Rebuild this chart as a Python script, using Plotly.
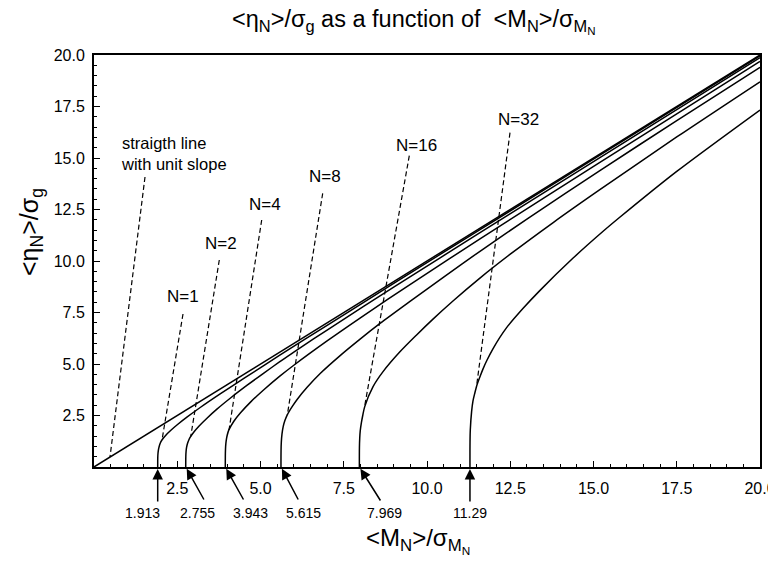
import plotly.graph_objects as go

# ---------------- data ----------------
unit_x = [0.0, 20.0]
unit_y = [0.0, 20.0]

n1_x = [1.913, 1.915, 1.922, 1.94, 1.98, 2.04, 2.15, 2.3, 2.5, 2.8, 3.2, 3.8, 4.5, 5.58, 7.0, 9.0, 11.58, 15.18, 20.0]
n1_y = [0.0, 0.46, 0.67, 0.88, 1.12, 1.31, 1.53, 1.77, 2.05, 2.43, 2.9, 3.56, 4.3, 5.43, 6.88, 8.91, 11.51, 15.125, 19.96]

n2_x = [2.755, 2.757, 2.765, 2.78, 2.81, 2.85, 2.9, 3.0, 3.15, 3.4, 3.7, 4.1, 4.6, 5.1, 5.58, 6.0, 7.0, 9.0, 11.58, 15.18, 20.0]
n2_y = [0.0, 0.5, 0.75, 0.95, 1.15, 1.32, 1.47, 1.70, 1.98, 2.38, 2.82, 3.35, 3.97, 4.56, 5.11, 5.58, 6.65, 8.73, 11.36, 15.01, 19.87]

n4_x = [3.943, 3.945, 3.953, 3.97, 4.0, 4.05, 4.2, 4.4, 4.7, 5.1, 5.58, 6.0, 7.0, 8.0, 9.5, 11.58, 15.18, 20.0]
n4_y = [0.0, 0.66, 1.0, 1.28, 1.54, 1.80, 2.22, 2.63, 3.15, 3.75, 4.41, 4.94, 6.12, 7.24, 8.87, 11.06, 14.78, 19.69]

n8_x = [5.615, 5.617, 5.625, 5.645, 5.68, 5.73, 5.8, 5.95, 6.1, 6.4, 6.8, 7.4, 8.0, 8.6, 9.5, 10.5, 11.58, 13.0, 15.18, 17.5, 20.0]
n8_y = [0.0, 0.8, 1.2, 1.6, 1.95, 2.24, 2.52, 2.93, 3.28, 3.87, 4.55, 5.42, 6.22, 6.98, 8.05, 9.22, 10.46, 12.03, 14.38, 16.81, 19.4]

n16_x = [7.969, 7.971, 7.98, 7.995, 8.03, 8.07, 8.13, 8.38, 8.68, 9.18, 9.68, 10.18, 10.78, 11.58, 12.5, 13.8, 15.18, 17.5, 20.0]
n16_y = [0.0, 0.95, 1.4, 1.75, 2.15, 2.5, 2.93, 3.90, 4.63, 5.58, 6.40, 7.18, 8.06, 9.16, 10.33, 11.88, 13.45, 16.02, 18.7]

n32_x = [11.29, 11.292, 11.30, 11.34, 11.38, 11.43, 11.5, 11.6, 11.68, 11.8, 11.98, 12.38, 12.88, 13.38, 14.38, 15.28, 15.78, 17.5, 20.0]
n32_y = [0.0, 1.2, 1.8, 2.7, 3.2, 3.55, 3.98, 4.42, 4.75, 5.18, 5.74, 6.74, 7.69, 8.55, 10.13, 11.43, 12.11, 14.35, 17.33]

curve_names = ["N=1", "N=2", "N=4", "N=8", "N=16", "N=32"]
start_values = [1.913, 2.755, 3.943, 5.615, 7.969, 11.29]
start_labels = ["1.913", "2.755", "3.943", "5.615", "7.969", "11.29"]

tick_vals = [2.5, 5.0, 7.5, 10.0, 12.5, 15.0, 17.5, 20.0]
tick_text = ["2.5", "5.0", "7.5", "10.0", "12.5", "15.0", "17.5", "20.0"]

# ---------------- layout helpers ----------------
FONT = "Liberation Sans, Arial, Helvetica, sans-serif"
PL, PR, PT, PB = 94, 760, 55, 467   # plot area in window pixels
W, H = 768, 562
L, T, R, B = PL, PT, W - PR, H - PB
PW, PH = PR - PL, PB - PT

def px_to_data(px, py):
    return (px - PL) / PW * 20.0, (PB - py) / PH * 20.0

def px_to_paper(px, py):
    return (px - PL) / PW, (PB - py) / PH

fig = go.Figure()

curves = [(unit_x, unit_y), (n1_x, n1_y), (n2_x, n2_y), (n4_x, n4_y),
          (n8_x, n8_y), (n16_x, n16_y), (n32_x, n32_y)]
for i, (cx, cy) in enumerate(curves):
    fig.add_trace(go.Scatter(
        x=cx, y=cy, mode="lines",
        line=dict(color="black", width=1.5, shape="linear" if i == 0 else "spline", smoothing=0.8),
        showlegend=False, hoverinfo="skip", cliponaxis=True))

annotations = []
shapes = []

label_pos = [(182.5, 296), (220.7, 243), (265, 204), (325, 176), (416, 145), (518, 119)]
leader_pos = [((183, 314), (162, 440)), ((219.3, 260), (190.7, 436.7)), ((261.7, 220), (229, 430)),
              ((322.7, 193.3), (287.3, 415)), ((409.3, 155.7), (364.5, 407)), ((510, 132.7), (476.7, 385))]
for name, (lx, ly) in zip(curve_names, label_pos):
    dx, dy = px_to_data(lx, ly)
    annotations.append(dict(x=dx, y=dy, xref="x", yref="y", text=name, showarrow=False,
                            xanchor="center", yanchor="middle",
                            font=dict(family=FONT, size=17, color="black")))
sx, sy = px_to_data(119, 153.5)
annotations.append(dict(x=sx, y=sy, xref="x", yref="y", text="straigth line<br>with unit slope",
                        showarrow=False, xanchor="left", yanchor="middle", align="left",
                        font=dict(family=FONT, size=16.5, color="black")))
leader_pos = [((145, 177), (110, 457))] + leader_pos
for (p0, p1) in leader_pos:
    x0, y0 = px_to_data(*p0)
    x1, y1 = px_to_data(*p1)
    shapes.append(dict(type="line", xref="x", yref="y", x0=x0, y0=y0, x1=x1, y1=y1,
                       line=dict(color="black", width=1.2, dash="5px,3px")))

# arrows under the x axis
arrow_offsets = [(0, 36), (19, 34), (19, 34), (18, 34), (22, 35), (0, 36)]
text_px = [142, 197, 250, 303, 384, 470]
for v, lab, (ax, ay), tx in zip(start_values, start_labels, arrow_offsets, text_px):
    annotations.append(dict(x=v, y=0, xref="x", yref="y", text="", showarrow=True,
                            ax=ax, ay=ay, axref="pixel", ayref="pixel",
                            arrowhead=2, arrowsize=1.4, arrowwidth=1.5, arrowcolor="black", standoff=2))
    px_, py_ = px_to_paper(tx, 513)
    annotations.append(dict(x=px_, y=py_, xref="paper", yref="paper", text=lab, showarrow=False,
                            xanchor="center", yanchor="middle",
                            font=dict(family=FONT, size=14, color="black")))

# titles
tx, ty = px_to_paper(414, 21)
annotations.append(dict(x=tx, y=ty, xref="paper", yref="paper", showarrow=False,
                        xanchor="center", yanchor="middle",
                        text="&lt;η<sub>N</sub>&gt;/σ<sub>g</sub> as a function of  &lt;M<sub>N</sub>&gt;/σ<sub>M<sub>N</sub></sub>",
                        font=dict(family=FONT, size=23.5, color="black")))
tx, ty = px_to_paper(418, 540)
annotations.append(dict(x=tx, y=ty, xref="paper", yref="paper", showarrow=False,
                        xanchor="center", yanchor="middle",
                        text="&lt;M<sub>N</sub>&gt;/σ<sub>M<sub>N</sub></sub>",
                        font=dict(family=FONT, size=24, color="black")))
tx, ty = px_to_paper(31, 232)
annotations.append(dict(x=tx, y=ty, xref="paper", yref="paper", showarrow=False, textangle=-90,
                        xanchor="center", yanchor="middle",
                        text="&lt;η<sub>N</sub>&gt;/σ<sub>g</sub>",
                        font=dict(family=FONT, size=25, color="black")))

axis_common = dict(range=[0, 20], tickvals=tick_vals, ticktext=tick_text, ticks="inside",
                   ticklen=6, tickwidth=1.2, tickcolor="black", showline=True, linewidth=2,
                   linecolor="black", mirror=True, showgrid=False, zeroline=False,
                   ticklabeloverflow="allow",
                   tickfont=dict(family=FONT, size=16, color="black"),
                   minor=dict(ticks="inside", dtick=0.5, ticklen=3, tickwidth=1, tickcolor="black", showgrid=False))

fig.update_layout(
    width=W, height=H, margin=dict(l=L, r=R, t=T, b=B, autoexpand=False),
    plot_bgcolor="white", paper_bgcolor="white",
    xaxis=dict(**axis_common, ticklabelstandoff=6),
    yaxis=dict(**axis_common, ticklabelstandoff=4),
    annotations=annotations, shapes=shapes,
)

fig.write_html("out.html", config={"displayModeBar": False},
               post_script="document.body.style.margin='0';document.body.style.overflow='hidden';")
